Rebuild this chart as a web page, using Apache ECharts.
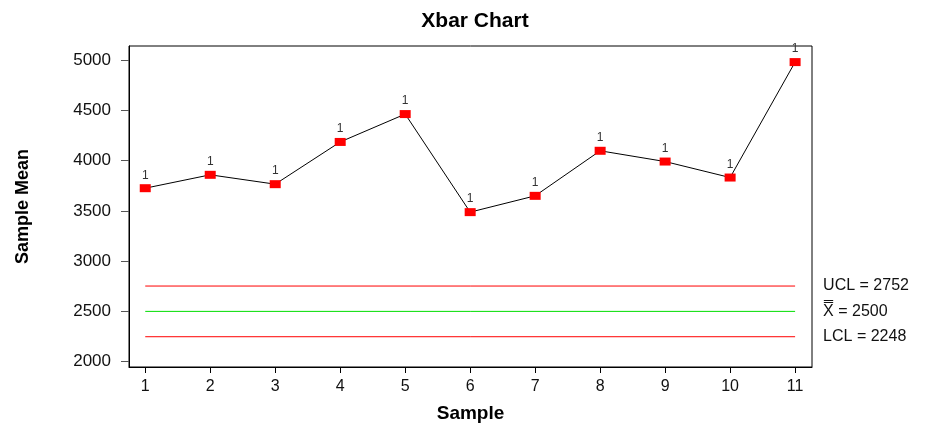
<!DOCTYPE html>
<html>
<head>
<meta charset="utf-8">
<script src="https://cdn.jsdelivr.net/npm/echarts@6/dist/echarts.min.js"></script>
<style>html,body{margin:0;padding:0;background:#fff}#c{width:950px;height:430px}</style>
</head>
<body>
<div id="c"></div>
<script>
const samples = [1, 2, 3, 4, 5, 6, 7, 8, 9, 10, 11];
const means = [3725, 3858, 3765, 4185, 4462, 3487, 3649, 4097, 3990, 3831, 4979];
const flags = ['1', '1', '1', '1', '1', '1', '1', '1', '1', '1', '1'];
const yTicks = [2000, 2500, 3000, 3500, 4000, 4500, 5000];
const UCL = 2752, CENTER = 2500, LCL = 2248;

const font = '"Liberation Sans", Arial, sans-serif';
function limitSeries(name, v, color, text) {
  return {
    name: name,
    type: 'line',
    color: color,
    data: [[samples[0], v], [samples[samples.length - 1], v]],
    symbol: 'none',
    silent: true,
    itemStyle: { color: color },
    lineStyle: { color: color, width: 1, type: 'solid', opacity: 1 },
    z: 2,
    endLabel: { show: true, distance: 28, formatter: text, fontFamily: font, fontSize: 16, color: '#111' }
  };
}
const chart = echarts.init(document.getElementById('c'));
chart.setOption({
  animation: false,
  backgroundColor: '#fff',
  color: ['#ff0000', '#00dd00', '#ff0000', '#ff0000'],
  title: {
    text: 'Xbar Chart', left: 'center', top: 6,
    textStyle: { fontFamily: font, fontWeight: 'bold', fontSize: 21, color: '#000' }
  },
  grid: { left: 129, right: 138, top: 46, bottom: 63, show: true, borderColor: '#000', borderWidth: 1, backgroundColor: 'transparent' },
  xAxis: {
    type: 'value', min: 0.75, max: 11.26,
    name: 'Sample', nameLocation: 'middle', nameGap: 37,
    nameTextStyle: { fontFamily: font, fontWeight: 'bold', fontSize: 19, color: '#000' },
    axisLine: { lineStyle: { color: '#000', width: 1 } },
    axisTick: { show: true, length: 6, lineStyle: { color: '#000' }, customValues: samples },
    axisLabel: { fontFamily: '"Liberation Sans Narrow", "Liberation Sans", sans-serif', fontSize: 16, color: '#111', margin: 12, customValues: samples },
    splitLine: { show: false }
  },
  yAxis: {
    type: 'value', min: 1947, max: 5139,
    name: 'Sample Mean', nameLocation: 'middle', nameGap: 97, nameRotate: 90,
    nameTextStyle: { fontFamily: font, fontWeight: 'bold', fontSize: 18, color: '#000' },
    axisLine: { lineStyle: { color: '#000', width: 1 } },
    axisTick: { show: true, length: 8, lineStyle: { color: '#555' }, customValues: yTicks },
    axisLabel: { fontFamily: font, fontSize: 17, color: '#111', margin: 18, customValues: yTicks, formatter: v => String(v) },
    splitLine: { show: false }
  },
  series: [
    limitSeries('center', CENTER, '#00dd00', 'X\u033F = ' + CENTER),
    limitSeries('lcl', LCL, '#ff0000', 'LCL = ' + LCL),
    limitSeries('ucl', UCL, '#ff0000', 'UCL = ' + UCL),
    {
      name: 'mean',
      type: 'line',
      data: samples.map((s, i) => [s, means[i]]),
      symbol: 'rect', symbolSize: [11, 8],
      itemStyle: { color: '#ff0000' },
      lineStyle: { color: '#000', width: 1 },
      label: {
        show: true, position: 'top', distance: 3,
        formatter: p => flags[p.dataIndex],
        fontFamily: font, fontSize: 12, color: '#333'
      },
      z: 5
    }
  ]
});
</script>
</body>
</html>
